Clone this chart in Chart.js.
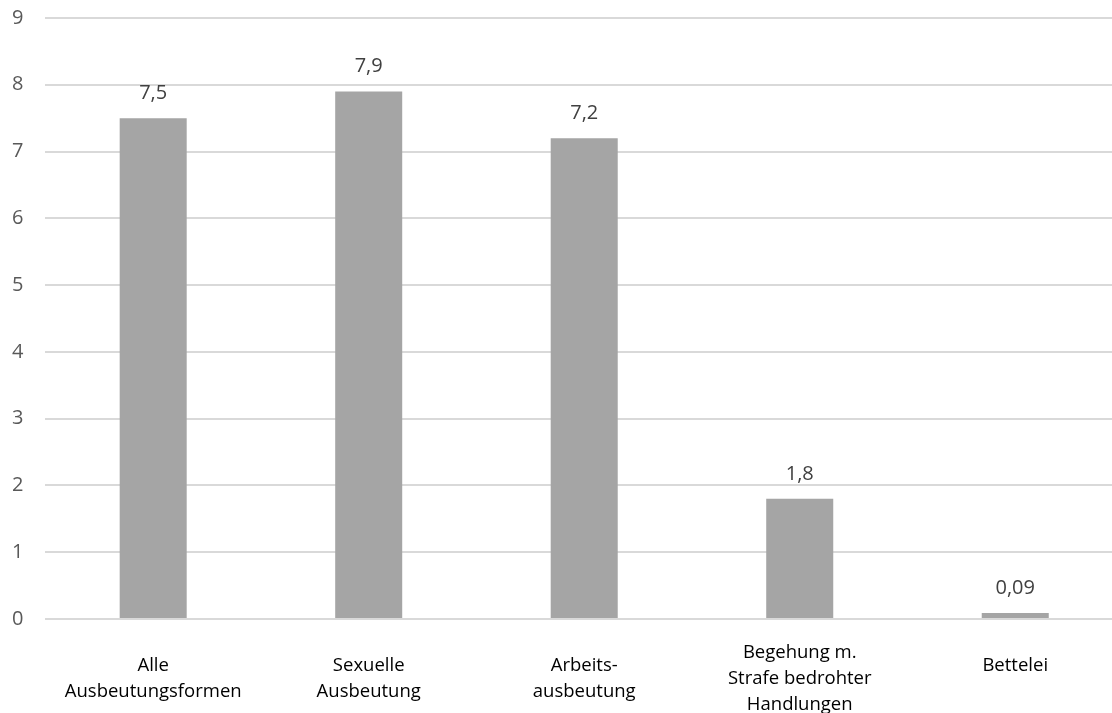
<!DOCTYPE html>
<html>
<head>
<meta charset="utf-8">
<script src="https://cdn.jsdelivr.net/npm/chart.js@4/dist/chart.umd.min.js"></script>
<style>
  html, body { margin: 0; padding: 0; background: #fff; overflow: hidden; width: 1112px; height: 713px; }
  #wrap { position: absolute; left: -20px; top: -16px; width: 1160px; height: 781px; }
</style>
</head>
<body>
<div id="wrap"><canvas id="c"></canvas></div>
<script>
const categories = [
  ["Alle", "Ausbeutungsformen"],
  ["Sexuelle", "Ausbeutung"],
  ["Arbeits-", "ausbeutung"],
  ["Begehung m.", "Strafe bedrohter", "Handlungen"],
  ["Bettelei", ""]
];
const values = [7.5, 7.9, 7.2, 1.8, 0.09];
const yMin = 0, yMax = 9, yStep = 1;

const FONT = "'Open Sans', 'DejaVu Sans', sans-serif";

const dataLabels = {
  id: 'dataLabels',
  afterDatasetsDraw(chart) {
    const ctx = chart.ctx;
    const meta = chart.getDatasetMeta(0);
    ctx.save();
    ctx.font = "20px " + FONT;
    ctx.fillStyle = '#404040';
    ctx.textAlign = 'center';
    ctx.textBaseline = 'middle';
    meta.data.forEach((bar, i) => {
      const txt = String(values[i]).replace('.', ',');
      ctx.fillText(txt, bar.x, bar.y - 25);
    });
    ctx.restore();
  }
};

new Chart(document.getElementById('c'), {
  type: 'bar',
  data: {
    labels: categories,
    datasets: [{
      data: values,
      backgroundColor: '#A5A5A5',
      borderWidth: 0,
      categoryPercentage: 1,
      barPercentage: 0.311
    }]
  },
  options: {
    responsive: true,
    maintainAspectRatio: false,
    animation: false,
    layout: { padding: { left: 10, right: 17, top: 8, bottom: 0 } },
    plugins: { legend: { display: false }, tooltip: { enabled: false }, title: { display: false } },
    scales: {
      x: {
        grid: { display: false, drawTicks: false },
        border: { display: false },
        ticks: {
          color: '#000000',
          font: { family: FONT, size: 18.5, lineHeight: 1.405 },
          maxRotation: 0,
          autoSkip: false,
          padding: 34,
          crossAlign: 'center'
        }
      },
      y: {
        min: yMin,
        max: yMax,
        grid: { color: '#D9D9D9', lineWidth: 2, drawTicks: false },
        border: { display: false },
        ticks: {
          stepSize: yStep,
          color: '#595959',
          font: { family: FONT, size: 20 },
          padding: 22
        }
      }
    }
  },
  plugins: [dataLabels]
});
</script>
</body>
</html>
